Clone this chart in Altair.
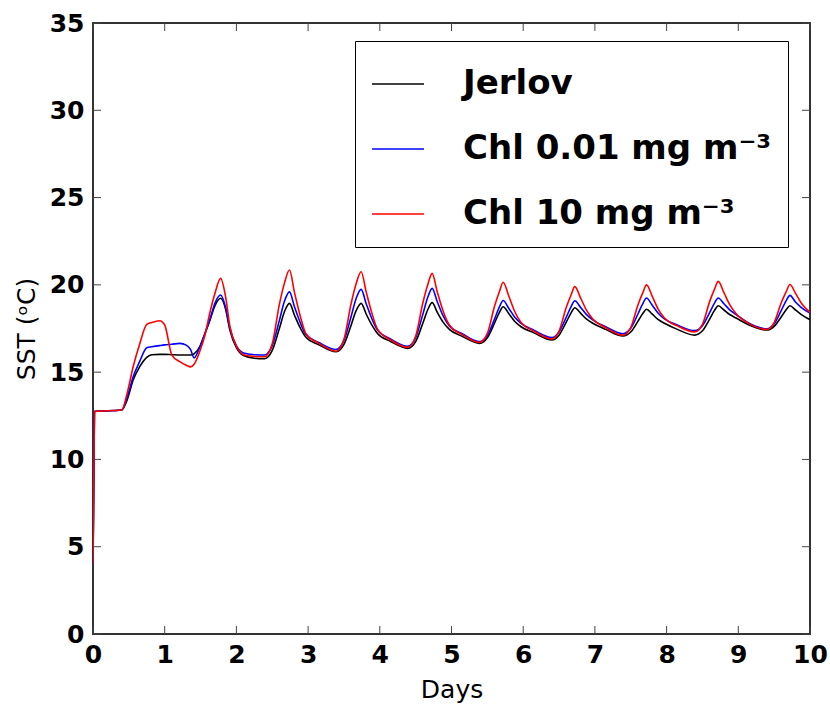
import altair as alt
import pandas as pd

# ---- data ----
days = [
    0.00, 0.02, 0.40, 0.48, 0.56, 0.65, 0.75, 0.82, 0.93, 1.00, 1.10, 1.21, 1.30, 1.36, 1.41,
    1.49, 1.56, 1.63, 1.70, 1.78, 1.85, 1.91, 2.00, 2.10, 2.25,
    2.39, 2.50, 2.60, 2.67, 2.74, 2.81, 2.89, 2.97, 3.15,
    3.39, 3.50, 3.60, 3.67, 3.74, 3.81, 3.89, 3.97, 4.15,
    4.39, 4.50, 4.60, 4.67, 4.73, 4.80, 4.88, 4.97, 5.15,
    5.39, 5.50, 5.60, 5.67, 5.72, 5.80, 5.88, 5.97, 6.15,
    6.40, 6.50, 6.60, 6.67, 6.72, 6.80, 6.88, 6.97, 7.15,
    7.39, 7.50, 7.60, 7.67, 7.72, 7.80, 7.88, 7.97, 8.15,
    8.39, 8.50, 8.60, 8.67, 8.72, 8.80, 8.88, 8.97, 9.15,
    9.40, 9.50, 9.60, 9.67, 9.72, 9.80, 9.88, 10.00,
]

jerlov = [
    4.0, 12.75, 12.83, 13.45, 14.55, 15.3, 15.85, 16.0, 16.02, 16.02, 16.0, 15.98, 15.98, 15.98, 16.05,
    16.46, 17.2, 17.98, 18.8, 19.23, 18.6, 17.4, 16.4, 15.95, 15.8,
    15.77, 16.25, 17.51, 18.46, 18.94, 18.26, 17.54, 17.0, 16.57,
    16.17, 16.59, 17.69, 18.52, 18.94, 18.33, 17.69, 17.2, 16.76,
    16.36, 16.75, 17.8, 18.59, 18.98, 18.44, 17.88, 17.45, 17.05,
    16.65, 16.97, 17.81, 18.44, 18.75, 18.35, 17.92, 17.6, 17.25,
    16.84, 17.12, 17.86, 18.41, 18.69, 18.38, 18.05, 17.8, 17.45,
    17.07, 17.3, 17.91, 18.37, 18.6, 18.32, 18.02, 17.8, 17.45,
    17.12, 17.37, 18.04, 18.55, 18.8, 18.56, 18.3, 18.1, 17.7,
    17.41, 17.62, 18.17, 18.59, 18.8, 18.55, 18.3, 18.0,
]

chl_001 = [
    4.0, 12.75, 12.83, 13.6, 14.74, 15.6, 16.4, 16.45, 16.52, 16.56, 16.6, 16.65, 16.55, 16.3, 15.82,
    16.45, 17.2, 18.0, 18.95, 19.42, 18.7, 17.5, 16.5, 16.1, 16.0,
    15.98, 16.52, 17.97, 19.06, 19.6, 18.74, 17.84, 17.15, 16.7,
    16.3, 16.82, 18.19, 19.22, 19.74, 18.92, 18.06, 17.4, 16.9,
    16.48, 16.98, 18.31, 19.3, 19.8, 19.05, 18.25, 17.65, 17.2,
    16.75, 17.1, 18.04, 18.75, 19.1, 18.65, 18.16, 17.8, 17.4,
    16.98, 17.3, 18.14, 18.77, 19.09, 18.71, 18.31, 18.0, 17.6,
    17.2, 17.51, 18.33, 18.94, 19.25, 18.83, 18.39, 18.05, 17.7,
    17.38, 17.66, 18.41, 18.97, 19.25, 18.92, 18.57, 18.3, 17.8,
    17.48, 17.77, 18.54, 19.11, 19.4, 19.0, 18.7, 18.38,
]

chl_10 = [
    4.0, 12.75, 12.83, 13.85, 15.31, 16.6, 17.74, 17.85, 17.94, 17.7, 15.98, 15.6, 15.4, 15.3, 15.45,
    16.2, 17.1, 18.4, 19.5, 20.37, 19.3, 17.6, 16.5, 16.0, 15.9,
    15.88, 16.63, 18.9, 20.1, 20.85, 19.57, 18.22, 17.2, 16.65,
    16.2, 16.88, 18.93, 20.07, 20.75, 19.6, 18.37, 17.45, 16.85,
    16.42, 17.06, 18.96, 20.02, 20.66, 19.62, 18.53, 17.7, 17.15,
    16.7, 17.22, 18.77, 19.63, 20.15, 19.35, 18.49, 17.85, 17.35,
    16.9, 17.35, 18.7, 19.45, 19.9, 19.25, 18.57, 18.05, 17.55,
    17.12, 17.55, 18.85, 19.57, 20.0, 19.34, 18.63, 18.1, 17.65,
    17.3, 17.74, 19.04, 19.77, 20.2, 19.55, 18.87, 18.35, 17.78,
    17.45, 17.84, 18.99, 19.63, 20.02, 19.5, 18.95, 18.42,
]

series_names = ["Jerlov", "Chl 0.01 mg m\u207b\u00b3", "Chl 10 mg m\u207b\u00b3"]
series_colors = ["#000000", "#0000ff", "#ff0000"]
x_ticks = [0, 1, 2, 3, 4, 5, 6, 7, 8, 9, 10]
y_ticks = [0, 5, 10, 15, 20, 25, 30, 35]

# ---- build table ----
rows = []
for name, vals in zip(series_names, [jerlov, chl_001, chl_10]):
    for order, (d, v) in enumerate(zip(days, vals)):
        rows.append({"Days": d, "SST": v, "series": name, "order": order})
df = pd.DataFrame(rows)

W, H = 717, 611
FONT = "DejaVu Sans"

xscale = alt.Scale(domain=[0, 10], nice=False, zero=False)
yscale = alt.Scale(domain=[0, 35], nice=False, zero=False)

lines = alt.Chart(df).mark_line(strokeWidth=1.6, clip=True, interpolate="monotone").encode(
    x=alt.X("Days:Q", scale=xscale,
            axis=alt.Axis(values=x_ticks, format="d", title="Days", domain=False, ticks=False, grid=False,
                          labelFont=FONT, labelFontSize=25, labelFontWeight="bold", labelColor="black",
                          labelPadding=8, titleFont=FONT, titleFontSize=25, titleFontWeight="normal",
                          titleColor="black", titlePadding=10, labelFlush=False)),
    y=alt.Y("SST:Q", scale=yscale,
            axis=alt.Axis(values=y_ticks, format="d", title="SST (\u1d52C)", domain=False, ticks=False,
                          grid=False, labelFont=FONT, labelFontSize=25, labelFontWeight="bold",
                          labelColor="black", labelPadding=9, titleFont=FONT, titleFontSize=25,
                          titleFontWeight="normal", titleColor="black", titlePadding=10,
                          labelFlush=False)),
    color=alt.Color("series:N",
                    scale=alt.Scale(domain=series_names, range=series_colors),
                    sort=series_names,
                    legend=alt.Legend(title=None, orient="none", legendX=262, legendY=18,
                                      symbolType="stroke", symbolSize=2700, symbolStrokeWidth=1.6,
                                      labelFont=FONT, labelFontSize=34, labelFontWeight="bold",
                                      labelColor="black", labelLimit=600, labelOffset=38,
                                      rowPadding=21, padding=16, strokeColor="black",
                                      fillColor="white", cornerRadius=0)),
    order=alt.Order("order:Q"),
    detail="series:N",
)

xt = pd.DataFrame({"t": x_ticks})
yt = pd.DataFrame({"t": y_ticks})
tick_style = dict(color="#444444", strokeWidth=1)
bottom_ticks = alt.Chart(xt).mark_rule(**tick_style).encode(
    x=alt.X("t:Q", scale=xscale), y=alt.value(H), y2=alt.value(H - 8))
top_ticks = alt.Chart(xt).mark_rule(**tick_style).encode(
    x=alt.X("t:Q", scale=xscale), y=alt.value(0), y2=alt.value(8))
left_ticks = alt.Chart(yt).mark_rule(**tick_style).encode(
    y=alt.Y("t:Q", scale=yscale), x=alt.value(0), x2=alt.value(8))
right_ticks = alt.Chart(yt).mark_rule(**tick_style).encode(
    y=alt.Y("t:Q", scale=yscale), x=alt.value(W), x2=alt.value(W - 8))

chart = alt.layer(bottom_ticks, top_ticks, left_ticks, right_ticks, lines).properties(
    width=W, height=H,
    autosize=alt.AutoSizeParams(type="none"),
    padding={"left": 93, "top": 23, "right": 20, "bottom": 74},
    background="white",
).configure_view(stroke="#333333", strokeWidth=2)

chart.save("out.html", embed_options={"renderer": "svg", "actions": False})
